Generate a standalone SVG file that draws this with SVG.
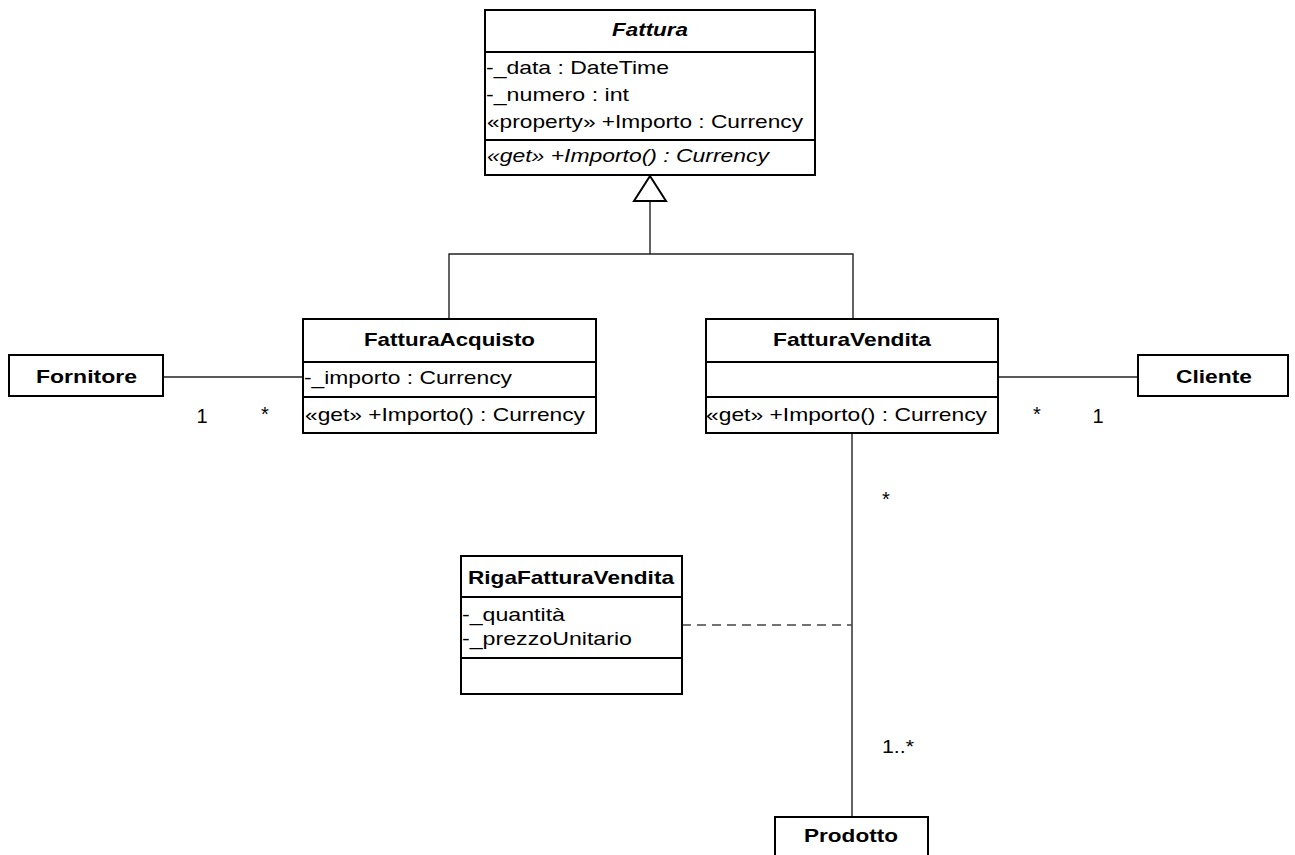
<svg xmlns="http://www.w3.org/2000/svg" width="1295" height="855" viewBox="0 0 1295 855">
<style>
  .box { fill: #ffffff; stroke: #000000; stroke-width: 2; }
  .div { stroke: #000000; stroke-width: 2; fill: none; }
  .t { font-family: "Liberation Sans", Arial, sans-serif; font-size: 19px; fill: #000000; }
  .m { font-size: 20px; text-anchor: middle; }
  .b { font-weight: bold; text-anchor: middle; }
  .i { font-style: italic; }
  .conn { stroke: #222222; stroke-width: 1.4; fill: none; }
  .dash { stroke: #444444; stroke-width: 1.4; fill: none; stroke-dasharray: 9 6; }
  .gen { stroke: #000000; stroke-width: 2; fill: #ffffff; }
</style>
<rect width="1295" height="855" fill="#ffffff"/>

<g id="connectors">
  <polyline class="conn" points="449,319 449,254 853,254 853,319"/>
  <line class="conn" x1="650" y1="254" x2="650" y2="201"/>
  <polygon class="gen" points="650,176 634,201 666,201"/>
  <line class="conn" x1="163" y1="377" x2="304" y2="377"/>
  <line class="conn" x1="998" y1="377" x2="1138" y2="377"/>
  <line class="conn" x1="852" y1="433" x2="852" y2="817"/>
  <line class="dash" x1="682" y1="625" x2="852" y2="625"/>
  <text class="t m" x="202" y="423">1</text>
  <text class="t m" x="265" y="421">*</text>
  <text class="t m" x="1037" y="421">*</text>
  <text class="t m" x="1098" y="423">1</text>
  <text class="t m" x="886" y="506">*</text>
  <text class="t" x="882" y="753" font-size="20" textLength="32" lengthAdjust="spacingAndGlyphs">1..*</text>
</g>

<g id="Fattura">
  <rect class="box" x="485" y="10" width="330" height="165"/>
  <line class="div" x1="485" y1="52" x2="815" y2="52"/>
  <line class="div" x1="485" y1="140" x2="815" y2="140"/>
  <text class="t b i" x="650" y="36" textLength="76" lengthAdjust="spacingAndGlyphs">Fattura</text>
  <text class="t" x="486" y="74" textLength="183" lengthAdjust="spacingAndGlyphs">-_data : DateTime</text>
  <text class="t" x="486" y="101" textLength="143" lengthAdjust="spacingAndGlyphs">-_numero : int</text>
  <text class="t" x="487" y="128" textLength="316" lengthAdjust="spacingAndGlyphs">«property» +Importo : Currency</text>
  <text class="t i" x="487" y="162" textLength="282" lengthAdjust="spacingAndGlyphs">«get» +Importo() : Currency</text>
</g>

<g id="FatturaAcquisto">
  <rect class="box" x="303" y="319" width="293" height="114"/>
  <line class="div" x1="303" y1="362" x2="596" y2="362"/>
  <line class="div" x1="303" y1="397" x2="596" y2="397"/>
  <text class="t b" x="449.5" y="346" textLength="171" lengthAdjust="spacingAndGlyphs">FatturaAcquisto</text>
  <text class="t" x="304" y="384" textLength="208" lengthAdjust="spacingAndGlyphs">-_importo : Currency</text>
  <text class="t" x="305" y="421" textLength="280" lengthAdjust="spacingAndGlyphs">«get» +Importo() : Currency</text>
</g>

<g id="FatturaVendita">
  <rect class="box" x="706" y="319" width="292" height="114"/>
  <line class="div" x1="706" y1="362" x2="998" y2="362"/>
  <line class="div" x1="706" y1="397" x2="998" y2="397"/>
  <text class="t b" x="852" y="346" textLength="158" lengthAdjust="spacingAndGlyphs">FatturaVendita</text>
  <text class="t" x="706" y="421" textLength="281" lengthAdjust="spacingAndGlyphs">«get» +Importo() : Currency</text>
</g>

<g id="Fornitore">
  <rect class="box" x="9" y="355" width="154" height="41"/>
  <text class="t b" x="86.5" y="383" textLength="101" lengthAdjust="spacingAndGlyphs">Fornitore</text>
</g>

<g id="Cliente">
  <rect class="box" x="1138" y="355" width="150" height="41"/>
  <text class="t b" x="1214" y="383" textLength="76" lengthAdjust="spacingAndGlyphs">Cliente</text>
</g>

<g id="RigaFatturaVendita">
  <rect class="box" x="461" y="556" width="221" height="138"/>
  <line class="div" x1="461" y1="597" x2="682" y2="597"/>
  <line class="div" x1="461" y1="658" x2="682" y2="658"/>
  <text class="t b" x="571" y="584" textLength="206" lengthAdjust="spacingAndGlyphs">RigaFatturaVendita</text>
  <text class="t" x="462" y="621" textLength="103" lengthAdjust="spacingAndGlyphs">-_quantità</text>
  <text class="t" x="462" y="645" textLength="170" lengthAdjust="spacingAndGlyphs">-_prezzoUnitario</text>
</g>

<g id="Prodotto">
  <rect class="box" x="775" y="817" width="153" height="50"/>
  <text class="t b" x="851" y="842" textLength="94" lengthAdjust="spacingAndGlyphs">Prodotto</text>
</g>
</svg>
